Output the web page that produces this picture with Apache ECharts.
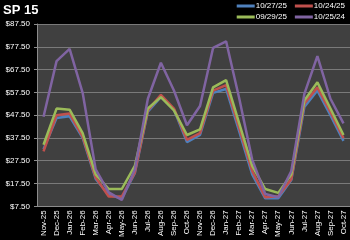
<!DOCTYPE html>
<html>
<head>
<meta charset="utf-8">
<script src="https://cdn.jsdelivr.net/npm/echarts@6/dist/echarts.min.js"></script>
<style>
  html, body { margin: 0; padding: 0; background: #000; }
  #chart { width: 350px; height: 240px; }
</style>
</head>
<body>
<div id="chart"></div>
<script>
// months on the x axis
const months = ['Nov-25', 'Dec-25', 'Jan-26', 'Feb-26', 'Mar-26', 'Apr-26', 'May-26', 'Jun-26',
  'Jul-26', 'Aug-26', 'Sep-26', 'Oct-26', 'Nov-26', 'Dec-26', 'Jan-27', 'Feb-27',
  'Mar-27', 'Apr-27', 'May-27', 'Jun-27', 'Jul-27', 'Aug-27', 'Sep-27', 'Oct-27'];

// y tick values ($7.50 steps of 10)
const yTicks = [7.5, 17.5, 27.5, 37.5, 47.5, 57.5, 67.5, 77.5, 87.5];

// forward curves, $/MWh
const curve102725 = [32.5, 46.3, 47.0, 37.5, 19.5, 12.5, 11.0, 22.0, 49.0, 55.5, 50.0, 35.7,
  38.8, 57.3, 59.0, 40.5, 21.5, 11.0, 11.0, 19.0, 51.1, 58.3, 47.5, 36.2];
const curve102425 = [31.6, 47.5, 48.2, 38.1, 20.1, 11.8, 11.8, 22.3, 49.6, 56.4, 50.4, 36.7,
  39.6, 58.3, 60.7, 42.0, 23.0, 11.5, 11.9, 19.4, 52.5, 59.7, 48.9, 37.4];
const curve092925 = [34.5, 50.4, 49.9, 39.6, 21.5, 15.1, 15.1, 25.2, 50.4, 55.4, 49.6, 38.8,
  41.3, 59.7, 62.9, 44.0, 25.2, 15.1, 13.4, 21.5, 53.9, 61.9, 50.4, 38.8];
const curve102524 = [46.8, 71.2, 76.6, 57.3, 23.7, 13.6, 10.3, 23.7, 54.7, 70.5, 58.3, 43.1,
  51.5, 77.0, 79.9, 55.0, 28.0, 12.9, 11.5, 23.0, 56.8, 73.4, 54.7, 43.9];

const seriesNames = ['10/27/25', '10/24/25', '09/29/25', '10/25/24'];
const seriesColors = ['#4f81bd', '#c0504d', '#9bbb59', '#8064a2'];
const seriesData = [curve102725, curve102425, curve092925, curve102524];

const font = 'Liberation Sans';
const legendBase = {
  right: 5,
  itemWidth: 18,
  itemHeight: 3,
  itemGap: 8,
  icon: 'rect',
  padding: 0,
  textStyle: { color: '#fff', fontSize: 8, fontFamily: font, padding: [0, 0, 0, -4] }
};

const chart = echarts.init(document.getElementById('chart'));
chart.setOption({
  backgroundColor: '#000',
  animation: false,
  title: {
    text: 'SP 15',
    left: 3,
    top: 4,
    padding: 0,
    textStyle: { color: '#fff', fontSize: 13, fontWeight: 'bold', fontFamily: font }
  },
  legend: [
    Object.assign({ data: seriesNames.slice(0, 2), top: 2 }, legendBase),
    Object.assign({ data: seriesNames.slice(2), top: 13 }, legendBase)
  ],
  grid: { left: 37, right: 0, top: 24, bottom: 31, show: true, backgroundColor: '#404040', borderWidth: 0 },
  xAxis: {
    type: 'category',
    data: months,
    boundaryGap: true,
    axisLine: { lineStyle: { color: '#8c8c8c' } },
    axisTick: { lineStyle: { color: '#8c8c8c' }, length: 3 },
    axisLabel: { color: '#fff', fontSize: 8, rotate: 90, margin: 4, interval: 0, fontFamily: font }
  },
  yAxis: {
    type: 'value',
    min: 7.5,
    max: 87.5,
    axisLine: { show: true, lineStyle: { color: '#8c8c8c' } },
    axisTick: { show: true, length: 3, customValues: yTicks, lineStyle: { color: '#8c8c8c' } },
    splitLine: { lineStyle: { color: '#7a7a7a', width: 1 } },
    axisLabel: {
      color: '#fff', fontSize: 8, margin: 7, fontFamily: font,
      customValues: yTicks,
      formatter: v => '$' + v.toFixed(2)
    }
  },
  series: seriesNames.map((name, i) => ({
    name: name,
    type: 'line',
    data: seriesData[i],
    color: seriesColors[i],
    symbol: 'none',
    lineStyle: { width: 2.5 }
  }))
});
</script>
</body>
</html>
